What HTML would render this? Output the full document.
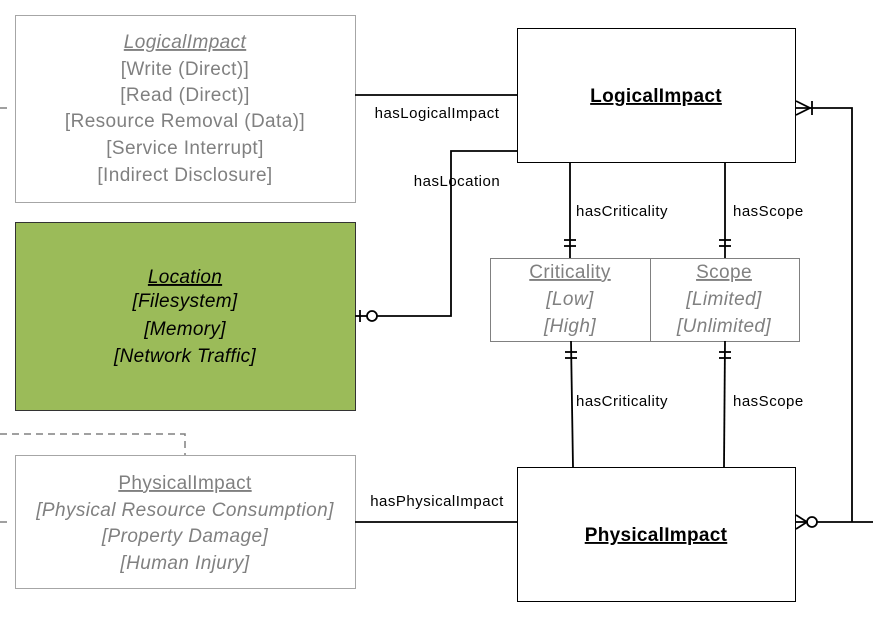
<!DOCTYPE html>
<html><head><meta charset="utf-8"><style>
body{margin:0;background:#fff}
svg{display:block;font-family:"Liberation Sans",sans-serif}
.g{fill:#808080;font-size:19px;letter-spacing:0.4px}
.b{fill:#000;font-size:19px;letter-spacing:0.3px}
.l{fill:#000;font-size:15px;letter-spacing:0.5px}
</style></head><body>
<svg width="873" height="619" viewBox="0 0 873 619">
<g stroke="#808080" stroke-width="1.5" fill="none" stroke-dasharray="7,5">
<line x1="0" y1="108" x2="12" y2="108"/>
<polyline points="0,434 185,434 185,455"/>
<line x1="0" y1="522" x2="12" y2="522"/>
</g>
<g>
<rect x="15.5" y="15.5" width="340" height="187" fill="#fff" stroke="#a6a6a6"/>
<text x="185" y="48" text-anchor="middle" class="g" font-style="italic" text-decoration="underline">LogicalImpact</text>
<text x="185" y="75" text-anchor="middle" class="g">[Write (Direct)]</text>
<text x="185" y="101" text-anchor="middle" class="g">[Read (Direct)]</text>
<text x="185" y="127" text-anchor="middle" class="g">[Resource Removal (Data)]</text>
<text x="185" y="154" text-anchor="middle" class="g">[Service Interrupt]</text>
<text x="185" y="181" text-anchor="middle" class="g">[Indirect Disclosure]</text>
</g>
<g>
<rect x="15.5" y="222.5" width="340" height="188" fill="#9bbb59" stroke="#333"/>
<text x="185" y="283" text-anchor="middle" class="b" font-style="italic" text-decoration="underline">Location</text>
<text x="185" y="307" text-anchor="middle" class="b" font-style="italic">[Filesystem]</text>
<text x="185" y="335" text-anchor="middle" class="b" font-style="italic">[Memory]</text>
<text x="185" y="362" text-anchor="middle" class="b" font-style="italic">[Network Traffic]</text>
</g>
<g>
<rect x="15.5" y="455.5" width="340" height="133" fill="#fff" stroke="#a6a6a6"/>
<text x="185" y="489" text-anchor="middle" class="g" text-decoration="underline">PhysicalImpact</text>
<text x="185" y="516" text-anchor="middle" class="g" font-style="italic">[Physical Resource Consumption]</text>
<text x="185" y="542" text-anchor="middle" class="g" font-style="italic">[Property Damage]</text>
<text x="185" y="569" text-anchor="middle" class="g" font-style="italic">[Human Injury]</text>
</g>
<g>
<rect x="517.5" y="28.5" width="278" height="134" fill="#fff" stroke="#000"/>
<text x="656" y="102" text-anchor="middle" class="b" font-weight="bold" text-decoration="underline">LogicalImpact</text>
</g>
<g>
<rect x="517.5" y="467.5" width="278" height="134" fill="#fff" stroke="#000"/>
<text x="656" y="541" text-anchor="middle" class="b" font-weight="bold" text-decoration="underline">PhysicalImpact</text>
</g>
<g>
<rect x="490.5" y="258.5" width="309" height="83" fill="#fff" stroke="#808080"/>
<line x1="650.5" y1="258" x2="650.5" y2="341" stroke="#808080"/>
<text x="570" y="278" text-anchor="middle" class="g" text-decoration="underline">Criticality</text>
<text x="570" y="305" text-anchor="middle" class="g" font-style="italic">[Low]</text>
<text x="570" y="332" text-anchor="middle" class="g" font-style="italic">[High]</text>
<text x="724" y="278" text-anchor="middle" class="g" text-decoration="underline">Scope</text>
<text x="724" y="305" text-anchor="middle" class="g" font-style="italic">[Limited]</text>
<text x="724" y="332" text-anchor="middle" class="g" font-style="italic">[Unlimited]</text>
</g>
<g stroke="#000" stroke-width="1.8" fill="none">
<line x1="355" y1="95" x2="517" y2="95"/>
<polyline points="517,151 451,151 451,316 377,316"/>
<line x1="355" y1="316" x2="367" y2="316"/>
<line x1="360" y1="310" x2="360" y2="322"/>
<circle cx="372" cy="316" r="5" fill="#fff"/>
<line x1="570" y1="162" x2="570" y2="258"/>
<line x1="564" y1="240" x2="576" y2="240"/><line x1="564" y1="246" x2="576" y2="246"/>
<line x1="725" y1="162" x2="725" y2="258"/>
<line x1="719" y1="240" x2="731" y2="240"/><line x1="719" y1="246" x2="731" y2="246"/>
<line x1="571" y1="341" x2="573" y2="467"/>
<line x1="565" y1="352" x2="577" y2="352"/><line x1="565" y1="358" x2="577" y2="358"/>
<line x1="725" y1="341" x2="724" y2="467"/>
<line x1="719" y1="352" x2="731" y2="352"/><line x1="719" y1="358" x2="731" y2="358"/>
<line x1="355" y1="522" x2="517" y2="522"/>
<polyline points="795,108 852,108 852,522"/>
<polyline points="796,101 810,108 796,115"/>
<line x1="812" y1="101" x2="812" y2="115"/>
<line x1="817" y1="522" x2="873" y2="522"/>
<polyline points="796,515 807,522 796,529"/>
<line x1="795" y1="522" x2="807" y2="522"/>
<circle cx="812" cy="522" r="5" fill="#fff"/>
</g>
<g>
<text x="437" y="118" text-anchor="middle" class="l">hasLogicalImpact</text>
<text x="457" y="186" text-anchor="middle" class="l">hasLocation</text>
<text x="576" y="216" class="l">hasCriticality</text>
<text x="733" y="216" class="l">hasScope</text>
<text x="576" y="406" class="l">hasCriticality</text>
<text x="733" y="406" class="l">hasScope</text>
<text x="437" y="506" text-anchor="middle" class="l">hasPhysicalImpact</text>
</g>
</svg>
</body></html>
